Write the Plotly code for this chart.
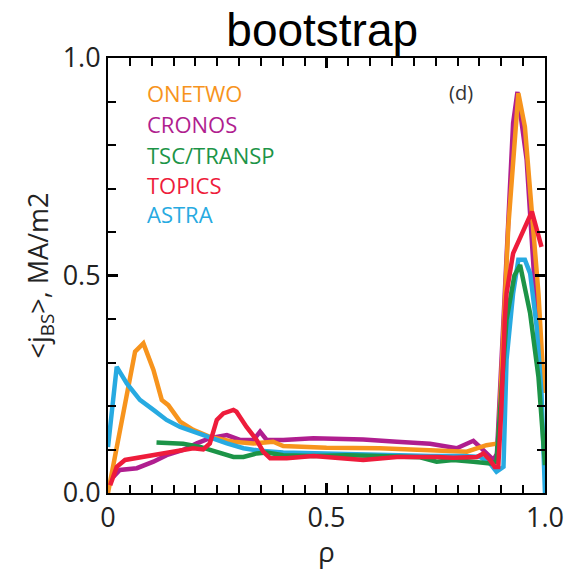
import plotly.graph_objects as go

# ---- data ----
onetwo_x = [0.0, 0.062, 0.081, 0.104, 0.123, 0.138, 0.165, 0.195, 0.233, 0.287, 0.333, 0.378, 0.401, 0.439, 0.5, 0.622, 0.7, 0.821, 0.866, 0.889, 0.893, 0.916, 0.939, 0.954, 0.970, 0.985, 0.998]
onetwo_y = [0.0, 0.325, 0.344, 0.283, 0.214, 0.202, 0.164, 0.145, 0.129, 0.118, 0.114, 0.118, 0.108, 0.106, 0.104, 0.103, 0.100, 0.095, 0.110, 0.114, 0.114, 0.612, 0.919, 0.842, 0.651, 0.459, 0.230]

cronos_x = [0.012, 0.027, 0.066, 0.104, 0.134, 0.172, 0.203, 0.233, 0.272, 0.302, 0.333, 0.348, 0.363, 0.401, 0.47, 0.584, 0.661, 0.737, 0.798, 0.836, 0.851, 0.866, 0.882, 0.890, 0.927, 0.937, 0.958, 0.975, 0.990]
cronos_y = [0.037, 0.053, 0.057, 0.072, 0.087, 0.099, 0.114, 0.126, 0.133, 0.122, 0.122, 0.141, 0.122, 0.122, 0.126, 0.123, 0.118, 0.113, 0.103, 0.120, 0.106, 0.091, 0.076, 0.090, 0.850, 0.922, 0.766, 0.500, 0.250]

tsc_x = [0.111, 0.172, 0.211, 0.249, 0.287, 0.310, 0.340, 0.363, 0.401, 0.47, 0.546, 0.622, 0.714, 0.752, 0.790, 0.836, 0.874, 0.889, 0.897, 0.912, 0.930, 0.943, 0.966, 0.985, 1.0]
tsc_y = [0.116, 0.113, 0.106, 0.095, 0.083, 0.083, 0.091, 0.093, 0.087, 0.085, 0.087, 0.085, 0.082, 0.072, 0.076, 0.072, 0.068, 0.072, 0.190, 0.398, 0.500, 0.524, 0.413, 0.267, 0.064]

topics_x = [0.005, 0.020, 0.039, 0.081, 0.119, 0.157, 0.195, 0.218, 0.233, 0.249, 0.264, 0.287, 0.294, 0.317, 0.340, 0.355, 0.371, 0.409, 0.47, 0.584, 0.661, 0.752, 0.790, 0.844, 0.859, 0.874, 0.885, 0.893, 0.900, 0.908, 0.912, 0.927, 0.970, 0.992]
topics_y = [0.018, 0.060, 0.076, 0.083, 0.091, 0.095, 0.103, 0.100, 0.114, 0.168, 0.183, 0.191, 0.187, 0.152, 0.122, 0.095, 0.080, 0.080, 0.085, 0.076, 0.083, 0.083, 0.081, 0.083, 0.091, 0.076, 0.060, 0.060, 0.190, 0.398, 0.459, 0.551, 0.647, 0.566]

astra_x = [0.0, 0.020, 0.043, 0.073, 0.104, 0.134, 0.165, 0.195, 0.233, 0.272, 0.310, 0.348, 0.401, 0.47, 0.622, 0.737, 0.813, 0.851, 0.874, 0.889, 0.905, 0.912, 0.927, 0.939, 0.954, 0.966, 0.981, 0.992, 1.0]
astra_y = [0.106, 0.290, 0.252, 0.214, 0.191, 0.168, 0.152, 0.141, 0.126, 0.114, 0.103, 0.097, 0.093, 0.091, 0.087, 0.085, 0.085, 0.083, 0.068, 0.049, 0.060, 0.306, 0.459, 0.536, 0.536, 0.505, 0.382, 0.229, 0.0]

names = ["ONETWO", "CRONOS", "TSC/TRANSP", "TOPICS", "ASTRA"]
colors = {"ONETWO": "#F7941D", "CRONOS": "#B01E8F", "TSC/TRANSP": "#1C9447",
          "TOPICS": "#EE1C3B", "ASTRA": "#27AAE1"}
series = {"ONETWO": (onetwo_x, onetwo_y), "CRONOS": (cronos_x, cronos_y),
          "TSC/TRANSP": (tsc_x, tsc_y), "TOPICS": (topics_x, topics_y),
          "ASTRA": (astra_x, astra_y)}
draw_order = ["CRONOS", "ONETWO", "ASTRA", "TSC/TRANSP", "TOPICS"]

x_tick_vals = [0, 0.5, 1.0]
x_tick_text = ["0", "0.5", "1.0"]
y_tick_vals = [0, 0.5, 1.0]
y_tick_text = ["0.0", "0.5", "1.0"]

fig = go.Figure()
for n in draw_order:
    xs, ys = series[n]
    fig.add_trace(go.Scatter(x=xs, y=ys, mode="lines", name=n,
                             line=dict(color=colors[n], width=4.5), showlegend=False))

legend_y = [0.92, 0.848, 0.777, 0.708, 0.641]
for n, yy in zip(names, legend_y):
    fig.add_annotation(x=0.085, y=yy, xref="x", yref="y", text=n, showarrow=False,
                       xanchor="left", yanchor="middle",
                       font=dict(family="Open Sans", size=22, color=colors[n]))
fig.add_annotation(x=0.808, y=0.92, xref="x", yref="y", text="(d)", showarrow=False,
                   xanchor="center", yanchor="middle",
                   font=dict(family="Open Sans", size=20, color="#333333"))

tick_col = "black"
axis_font = dict(family="Open Sans", size=27, color="#222222")
clear = "rgba(0,0,0,0)"

fig.update_layout(
    width=588, height=570,
    margin=dict(l=108, r=43, t=58, b=77),
    paper_bgcolor="white", plot_bgcolor="white",
    title=dict(text="bootstrap", x=0.548, xanchor="center", y=0.948, yanchor="middle",
               font=dict(family="Liberation Sans, Arial", size=46, color="black")),
    xaxis=dict(range=[0, 1], ticks="inside", ticklen=10, tickwidth=2.5, tickcolor=tick_col,
               showline=True, linecolor=tick_col, linewidth=2, mirror="allticks",
               gridcolor=clear, zerolinecolor=clear,
               tickvals=x_tick_vals, ticktext=x_tick_text, tickfont=axis_font,
               minor=dict(ticks="inside", dtick=0.05, ticklen=8, tickwidth=2,
                          tickcolor=tick_col, gridcolor=clear),
               title=dict(text="ρ", font=dict(family="Open Sans", size=28, color="#222222"), standoff=2)),
    yaxis=dict(range=[0, 1], ticks="inside", ticklen=10, tickwidth=2.5, tickcolor=tick_col,
               showline=True, linecolor=tick_col, linewidth=2, mirror="allticks",
               gridcolor=clear, zerolinecolor=clear,
               tickvals=y_tick_vals, ticktext=y_tick_text, tickfont=axis_font,
               minor=dict(ticks="inside", dtick=0.1, ticklen=8, tickwidth=2,
                          tickcolor=tick_col, gridcolor=clear),
               title=dict(text="<j<sub>BS</sub>>, MA/m2", font=dict(family="Open Sans", size=27, color="#222222"), standoff=6)),
)

fig.write_html("out.html")
